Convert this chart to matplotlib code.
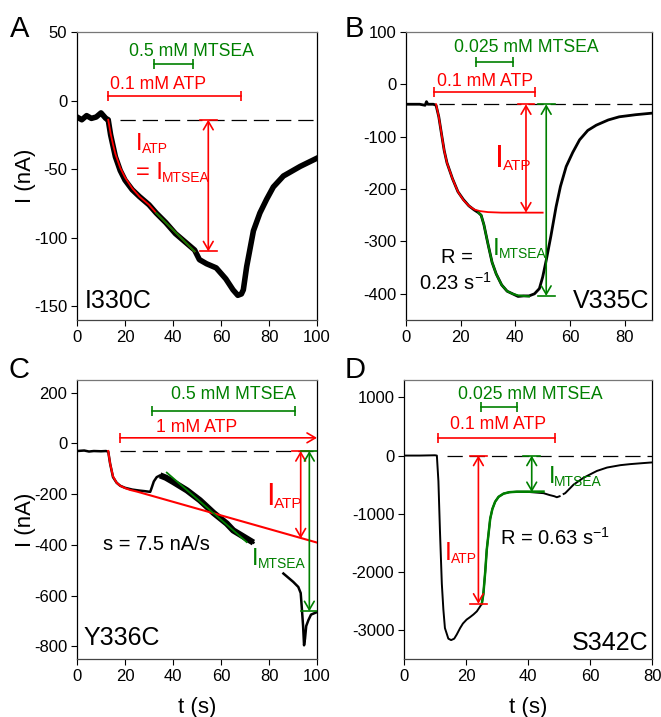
import numpy as np
import matplotlib
matplotlib.use('Agg')
import matplotlib.pyplot as plt

plt.rcParams['font.family'] = ['Liberation Sans', 'DejaVu Sans']
plt.rcParams['mathtext.fontset'] = 'custom'
plt.rcParams['mathtext.rm'] = 'Liberation Sans'
plt.rcParams['mathtext.it'] = 'Liberation Sans'
plt.rcParams['axes.unicode_minus'] = False
plt.rcParams['lines.scale_dashes'] = False

RED = '#ff0000'
GREEN = '#008000'
BAR_FS = 12.7

# ---- A: I330C ----
t_a = [0, 2, 4, 6, 8, 10, 12, 13, 14, 15, 16, 18, 20, 23, 26, 30, 33, 37, 41, 45, 49, 51,
       54, 58, 62, 65, 67, 68.5, 69.3, 70.7, 73.5, 76.2, 79, 81.8, 86, 93, 100]
i_a = [-12, -14, -11, -13, -12, -9, -13, -14, -25, -33, -41, -51, -58, -65, -70, -76, -82,
       -89, -97, -103, -109, -116, -119, -122, -130, -138, -142, -141, -138, -121, -95, -82,
       -72, -63, -55, -48, -42]
fit_red_t_a = [13, 14, 15, 16, 18, 20, 23, 26, 30, 33, 37, 41, 45, 49]
fit_red_i_a = [-14, -24, -32, -39, -49, -56, -64, -70, -76, -82, -89, -96, -103, -110]
fit_grn_t_a = [33, 37, 41, 45, 49]
fit_grn_i_a = [-82, -89, -96, -103, -110]
base_a = -14

# ---- B: V335C ----
t_b = [0, 5, 7, 7.5, 8, 10, 11, 12, 13, 14, 15, 17, 19, 21, 23, 25, 26.5, 27.5, 28.5, 30,
       31.5, 33, 35, 37, 39, 41, 43, 45, 47, 48.8, 50, 51.3, 53, 54.9, 56.5, 58.6, 61, 63.5,
       66.5, 69.6, 74, 78, 84, 90]
i_b = [-38, -38, -40, -33, -38, -38, -40, -62, -95, -127, -150, -180, -205, -220, -232, -240,
       -245, -250, -268, -305, -340, -362, -383, -395, -400, -405, -404, -404, -400, -390,
       -368, -336, -290, -234, -195, -157, -130, -106, -88, -78, -68, -62, -58, -55]
fit_red_t_b = [11, 12, 13, 14, 15, 17, 19, 21, 23, 25, 27, 30, 35, 40, 45, 50]
fit_red_i_b = [-38, -62, -95, -127, -150, -180, -205, -221, -232, -239, -242, -244, -245,
               -245, -245, -245]
fit_grn_t_b = [26.5, 27.5, 28.5, 30, 31.5, 33, 35, 37, 39, 41, 43, 45]
fit_grn_i_b = [-245, -250, -268, -305, -340, -362, -383, -395, -400, -403, -404, -405]
base_b = -38

# ---- C: Y336C ----
t_c = [0, 3, 5, 7, 10, 12, 13, 13.8, 15, 16.5, 18, 20, 23, 26, 28, 30.5, 31, 32, 33.2, 34.6,
       37, 40.1, 45.8, 51.2, 56.9, 62.4, 65.1, 70.7, 73.5, np.nan, 86, 90.1, 92.2, 93.2,
       93.6, 94.2, 94.6, 95, 95.5, 96.4, 97.5, 100]
i_c = [-30, -28, -32, -30, -31, -30, -32, -80, -133, -155, -167, -175, -182, -186, -188,
       -191, -178, -150, -133, -126, -135, -152, -185, -224, -274, -316, -343, -375, -391,
       np.nan, -513, -546, -566, -590, -640, -720, -796, -770, -720, -697, -675, -665]
fit_red_t_c = [13, 13.8, 15, 16.5, 18, 20, 22, 25, 100]
fit_red_i_c = [-30, -80, -130, -155, -167, -176, -183, -190, -391]
fit_grn_t_c = [37.4, 70.7]
fit_grn_i_c = [-115, -389]
base_c = -30

# ---- D: S342C ----
t_d = [0, 5, 10, 10.6, 11.1, 11.6, 12.2, 12.7, 13.2, 14.3, 15.2, 16.2, 17, 18.1, 19, 20.2,
       21.3, 22.4, 23.5, 24.5, 25.1, 25.6, 26.2, 26.7, 27.3, 27.8, 28.5, 29.4, 30.5, 32.1,
       34, 36.4, 40, 45, 47, 48.5, 49.3, 50.2, np.nan, 51.5, 52, 54.7, 57.9, 62.2, 65.5,
       69.8, 73, 77, 80]
i_d = [0, 0, 5, 0, -441, -1300, -2205, -2650, -2968, -3150, -3175, -3150, -3080, -2968,
       -2890, -2822, -2780, -2734, -2680, -2600, -2550, -2381, -2000, -1617, -1330, -1088,
       -920, -794, -710, -655, -630, -622, -625, -647, -680, -700, -717, -700, np.nan, -660,
       -647, -500, -382, -265, -206, -165, -147, -130, -118]
fit_grn_t_d = [25.1, 25.6, 26.2, 26.7, 27.3, 27.8, 28.5, 29.4, 30.5, 32.1, 34, 36.4, 40, 45]
fit_grn_i_d = [-2550, -2381, -2000, -1617, -1330, -1088, -920, -794, -710, -655, -630, -622,
               -620, -620]
base_d = 0


def setup(ax, xlim, ylim, xticks, yticks):
    ax.set_xlim(xlim)
    ax.set_ylim(ylim)
    ax.set_xticks(xticks)
    ax.set_yticks(yticks)
    ax.tick_params(direction='out', length=4, width=0.8, labelsize=12, pad=3)
    ax.spines['top'].set_color('#777777')
    ax.spines['bottom'].set_color('#444444')
    ax.spines['left'].set_color('black')
    ax.spines['right'].set_color('black')
    for s in ax.spines.values():
        s.set_linewidth(0.9)


def baseline(ax, t0, t1, y):
    ax.plot([t0, t1], [y, y], color='black', lw=0.9, ls=(0, (11, 5)), zorder=1)


def bar(ax, t0, t1, y, color, label, lx, ly, arrow=False):
    if arrow:
        ax.annotate('', xy=(t1, y), xytext=(t0, y), annotation_clip=False,
                    arrowprops=dict(arrowstyle='->,head_length=0.6,head_width=0.35',
                                    color=color, lw=1.2, shrinkA=0, shrinkB=0))
        ax.plot([t0], [y], ls='none', marker='|', ms=7, mew=1.2, color=color)
    else:
        ax.plot([t0, t1], [y, y], color=color, lw=1.2)
        ax.plot([t0, t1], [y, y], ls='none', marker='|', ms=7, mew=1.2, color=color)
    ax.text(lx, ly, label, color=color, fontsize=BAR_FS, va='baseline')


def span_arrow(ax, t, y0, y1, color, half, caps):
    ax.annotate('', xy=(t, y1), xytext=(t, y0),
                arrowprops=dict(arrowstyle='<->,head_length=0.6,head_width=0.35',
                                color=color, lw=1.2, shrinkA=0, shrinkB=0), zorder=4)
    for y in caps:
        ax.plot([t - half, t + half], [y, y], color=color, lw=1.2, zorder=4)


def current_label(ax, x, y, main, sub, color, fs=17, sfs=10):
    # big "I" followed by a small, slightly lowered subscript
    txt = ax.text(x, y, main, color=color, fontsize=fs, va='baseline')
    w = txt.get_window_extent(renderer=fig.canvas.get_renderer()).width * 72 / fig.dpi
    ax.annotate(sub, xy=(x, y), xytext=(w - 0.5, -2.2), textcoords='offset points',
                color=color, fontsize=sfs, va='baseline')


fig = plt.figure(figsize=(6.61, 7.17), dpi=100)
ax_a = fig.add_axes([0.1165, 0.5537, 0.3631, 0.4017])
ax_b = fig.add_axes([0.6142, 0.5537, 0.3722, 0.4017])
ax_c = fig.add_axes([0.1165, 0.0809, 0.3631, 0.3891])
ax_d = fig.add_axes([0.6112, 0.0809, 0.3752, 0.3891])

# A
ax = ax_a
setup(ax, (0, 100), (-160, 50), range(0, 101, 20), [50, 0, -50, -100, -150])
baseline(ax, 18, 100, base_a)
ax.plot(t_a, i_a, color='black', lw=4, solid_joinstyle='round', zorder=2)
ax.plot(fit_red_t_a, fit_red_i_a, color=RED, lw=1.3, zorder=3)
ax.plot(fit_grn_t_a, fit_grn_i_a, color=GREEN, lw=1.3, zorder=3)
bar(ax, 32.1, 48.5, 26.4, GREEN, '0.5 mM MTSEA', 21.6, 32.5)
bar(ax, 13, 68.2, 3.5, RED, '0.1 mM ATP', 13.6, 8.2)
span_arrow(ax, 54.7, base_a, -110, RED, 3.5, [base_a, -110])
current_label(ax, 24.7, -36, 'I', 'ATP', RED)
current_label(ax, 24.5, -57, '= I', 'MTSEA', RED)
ax.text(3.3, -151.5, 'I330C', fontsize=18, va='baseline')
ax.set_ylabel('I (nA)', fontsize=16)
ax.yaxis.set_label_coords(-0.172, 0.5)

# B
ax = ax_b
setup(ax, (0, 90), (-450, 100), range(0, 81, 20), [100, 0, -100, -200, -300, -400])
baseline(ax, 12, 90, base_b)
ax.plot(t_b, i_b, color='black', lw=2, zorder=2)
ax.plot(fit_red_t_b, fit_red_i_b, color=RED, lw=1.3, zorder=3)
ax.plot(fit_grn_t_b, fit_grn_i_b, color=GREEN, lw=1.5, zorder=3)
bar(ax, 25.6, 39, 42.5, GREEN, '0.025 mM MTSEA', 17.4, 61)
bar(ax, 10.3, 47.2, -14, RED, '0.1 mM ATP', 11.3, -3)
span_arrow(ax, 43.9, base_b, -245, RED, 3.1, [base_b])
span_arrow(ax, 51.3, base_b, -404, GREEN, 3.1, [base_b, -404])
current_label(ax, 32.5, -157, 'I', 'ATP', RED, fs=23, sfs=11)
current_label(ax, 31.7, -326, 'I', 'MTSEA', GREEN, fs=17.5)
ax.text(12.7, -342, 'R =', fontsize=14.5, va='baseline')
ax.text(4.8, -393, r'0.23 s$^{-1}$', fontsize=14.5, va='baseline')
ax.text(88.9, -428, 'V335C', fontsize=18, va='baseline', ha='right')

# C
ax = ax_c
setup(ax, (0, 100), (-850, 250), range(0, 101, 20), [200, 0, -200, -400, -600, -800])
baseline(ax, 18, 100, base_c)
ax.plot(t_c, i_c, color='black', lw=1.8, zorder=2)
ax.plot(t_c[19:29], i_c[19:29], color='black', lw=4.5, solid_capstyle='butt', zorder=2)
ax.plot(fit_red_t_c, fit_red_i_c, color=RED, lw=1.5, zorder=3)
ax.plot(fit_grn_t_c, fit_grn_i_c, color=GREEN, lw=1.3, zorder=3)
bar(ax, 31.1, 90.8, 127.5, GREEN, '0.5 mM MTSEA', 39.2, 176)
bar(ax, 17.9, 100, 22, RED, '1 mM ATP', 33, 44.7, arrow=True)
span_arrow(ax, 93.2, base_c, -375, RED, 3.5, [base_c])
span_arrow(ax, 96.8, base_c, -662, GREEN, 3.5, [base_c, -662])
current_label(ax, 79, -244, 'I', 'ATP', RED, fs=22, sfs=11)
current_label(ax, 72.8, -481, 'I', 'MTSEA', GREEN)
ax.text(11, -421, 's = 7.5 nA/s', fontsize=14.5, va='baseline')
ax.text(2.6, -796, 'Y336C', fontsize=18, va='baseline')
ax.set_ylabel('I (nA)', fontsize=16)
ax.yaxis.set_label_coords(-0.172, 0.5)
ax.set_xlabel('t (s)', fontsize=16)
ax.xaxis.set_label_coords(0.5, -0.135)

# D
ax = ax_d
setup(ax, (0, 80), (-3500, 1300), range(0, 81, 20), [1000, 0, -1000, -2000, -3000])
baseline(ax, 14, 80, base_d)
ax.plot(t_d, i_d, color='black', lw=1.4, zorder=2)
ax.plot(fit_grn_t_d, fit_grn_i_d, color=GREEN, lw=1.8, zorder=3)
bar(ax, 24.9, 36.4, 834, GREEN, '0.025 mM MTSEA', 17.3, 970)
bar(ax, 11.1, 48.8, 305, RED, '0.1 mM ATP', 14.7, 453)
span_arrow(ax, 24, base_d, -2550, RED, 2.75, [base_d, -2550])
span_arrow(ax, 41.2, base_d, -630, GREEN, 2.75, [base_d, -630])
current_label(ax, 13.2, -1793, 'I', 'ATP', RED, fs=18)
current_label(ax, 46.6, -470, 'I', 'MTSEA', GREEN)
ax.text(31, -1529, r'R = 0.63 s$^{-1}$', fontsize=14.5, va='baseline')
ax.text(78.9, -3351, 'S342C', fontsize=18, va='baseline', ha='right')
ax.set_xlabel('t (s)', fontsize=16)
ax.xaxis.set_label_coords(0.5, -0.135)

# panel letters
for letter, x, y in [('A', 10, 37), ('B', 345, 37), ('C', 8, 378), ('D', 345, 378)]:
    fig.text(x / 661, 1 - y / 717, letter, fontsize=21, va='baseline')

fig.savefig('out.png', dpi=100)
